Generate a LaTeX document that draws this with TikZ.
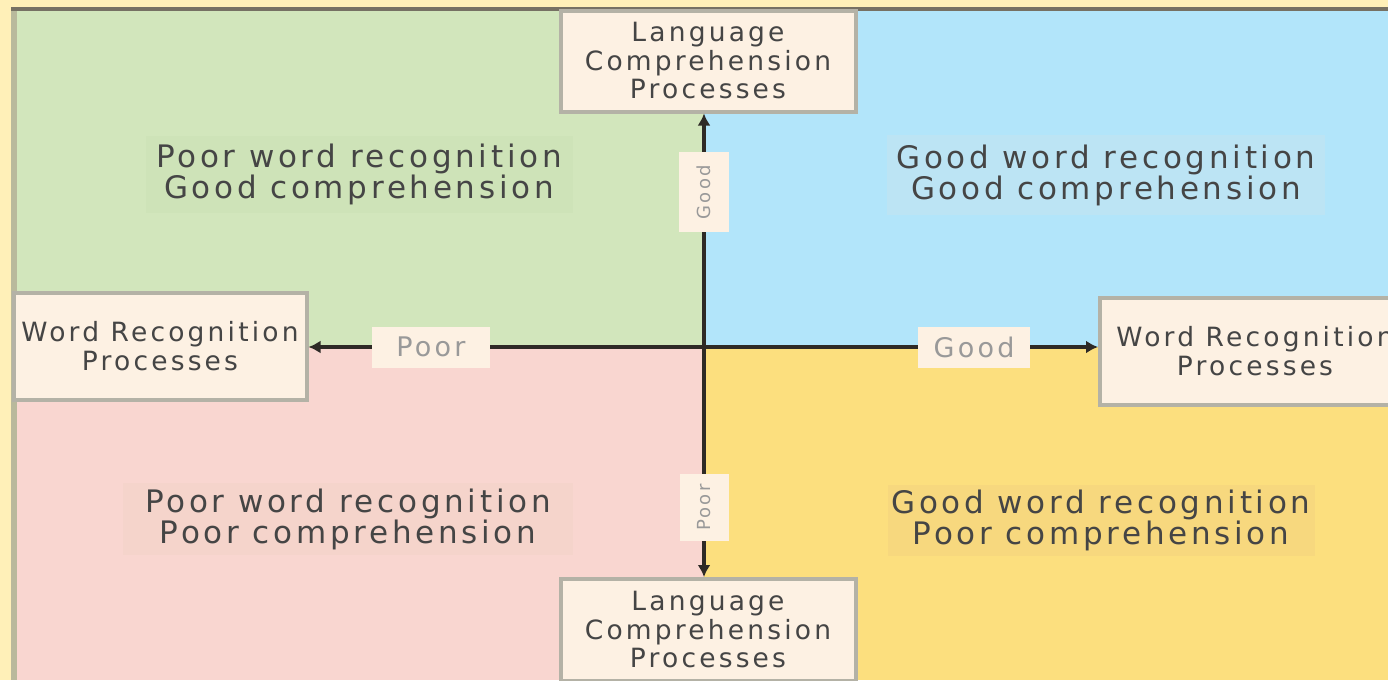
\documentclass[tikz,border=0pt]{standalone}
\usepackage{fontspec}
\setmainfont{DejaVu Sans}[LetterSpace=12]
\usepackage{tikz}
\usetikzlibrary{arrows.meta}
\definecolor{Paper}{HTML}{FFF0B8}
\definecolor{Leaf}{HTML}{D2E6BC}
\definecolor{Sky}{HTML}{B2E5FA}
\definecolor{Rose}{HTML}{F9D6D0}
\definecolor{Sun}{HTML}{FCDF7E}
\definecolor{LeafDk}{HTML}{CEE3B8}
\definecolor{SkyDk}{HTML}{BCE4F4}
\definecolor{RoseDk}{HTML}{F5D4CB}
\definecolor{SunDk}{HTML}{F7D87E}
\definecolor{Card}{HTML}{FDF1E3}
\definecolor{Rim}{HTML}{B4B2A6}
\definecolor{Ink}{HTML}{454545}
\definecolor{Faint}{HTML}{999999}
\definecolor{Axis}{HTML}{2E2A26}
\definecolor{FrameTop}{HTML}{767163}
\definecolor{FrameSide}{HTML}{B9B99C}

\begin{document}
\begin{tikzpicture}[x=1pt,y=-1pt,every node/.style={align=center,inner sep=0pt}]
\useasboundingbox (0,0) rectangle (1388,680);
\clip (0,0) rectangle (1388,680);
\fill[Paper] (0,0) rectangle (1388,680);
% the four quadrants
\fill[Leaf] (14,10) rectangle (704,347);
\fill[Sky] (704,10) rectangle (1388,347);
\fill[Rose] (14,347) rectangle (704,680);
\fill[Sun] (704,347) rectangle (1388,680);
\draw[FrameTop,line width=4pt] (11,9) -- (1388,9);
\draw[FrameSide,line width=6pt] (14,11) -- (14,680);
\coordinate (ctr) at (704,347);
% quadrant texts
\node[fill=LeafDk,text=Ink,font=\fontsize{31}{30}\selectfont,minimum width=427pt,minimum height=77pt] (pg) at (359,174) {Poor word recognition\\Good comprehension};
\node[fill=SkyDk,text=Ink,font=\fontsize{31}{30}\selectfont,minimum width=438pt,minimum height=80pt] (gg) at (1106,175) {Good word recognition\\Good comprehension};
\node[fill=RoseDk,text=Ink,font=\fontsize{31}{30}\selectfont,minimum width=450pt,minimum height=72pt] (pp) at (348,519) {Poor word recognition\\Poor comprehension};
\node[fill=SunDk,text=Ink,font=\fontsize{31}{30}\selectfont,minimum width=427pt,minimum height=71pt] (gp) at (1101,520) {Good word recognition\\Poor comprehension};
% process boxes
\node[draw=Rim,line width=4pt,fill=Card,text=Ink,font=\fontsize{26.5}{28.5}\selectfont,minimum width=295pt,minimum height=101pt] (lt) at (708,61) {Language\\Comprehension\\Processes};
\node[draw=Rim,line width=4pt,fill=Card,text=Ink,font=\fontsize{26.5}{28.5}\selectfont,minimum width=295pt,minimum height=102pt] (lb) at (708,630) {Language\\Comprehension\\Processes};
\node[draw=Rim,line width=4pt,fill=Card,text=Ink,font=\fontsize{26.5}{29}\selectfont,minimum width=293pt,minimum height=107pt] (wl) at (160,346) {Word Recognition\\Processes};
\node[draw=Rim,line width=4pt,fill=Card,text=Ink,font=\fontsize{26.5}{29}\selectfont,minimum width=310pt,minimum height=107pt] (wr) at (1255,351) {Word Recognition\\Processes};
% axes
\draw[Axis,line width=3.5pt,{Latex[length=12pt,width=13pt]}-{Latex[length=12pt,width=13pt]}] (lt.south -| ctr) -- (lb.north -| ctr)
  node[pos=0.17,rotate=90,fill=Card,text=Faint,font=\fontsize{18}{20}\selectfont,minimum width=80pt,minimum height=50pt] (vgood) {Good}
  node[pos=0.85,rotate=90,fill=Card,text=Faint,font=\fontsize{18}{20}\selectfont,minimum width=67pt,minimum height=49pt] (vpoor) {Poor};
\draw[Axis,line width=3.5pt,{Latex[length=12pt,width=13pt]}-{Latex[length=12pt,width=13pt]}] (wl.east |- ctr) -- (wr.west |- ctr)
  node[pos=0.155,fill=Card,text=Faint,font=\fontsize{27}{28}\selectfont,minimum width=118pt,minimum height=41pt] (hpoor) {Poor}
  node[pos=0.843,fill=Card,text=Faint,font=\fontsize{27}{28}\selectfont,minimum width=112pt,minimum height=41pt] (hgood) {Good};
\end{tikzpicture}
\end{document}
